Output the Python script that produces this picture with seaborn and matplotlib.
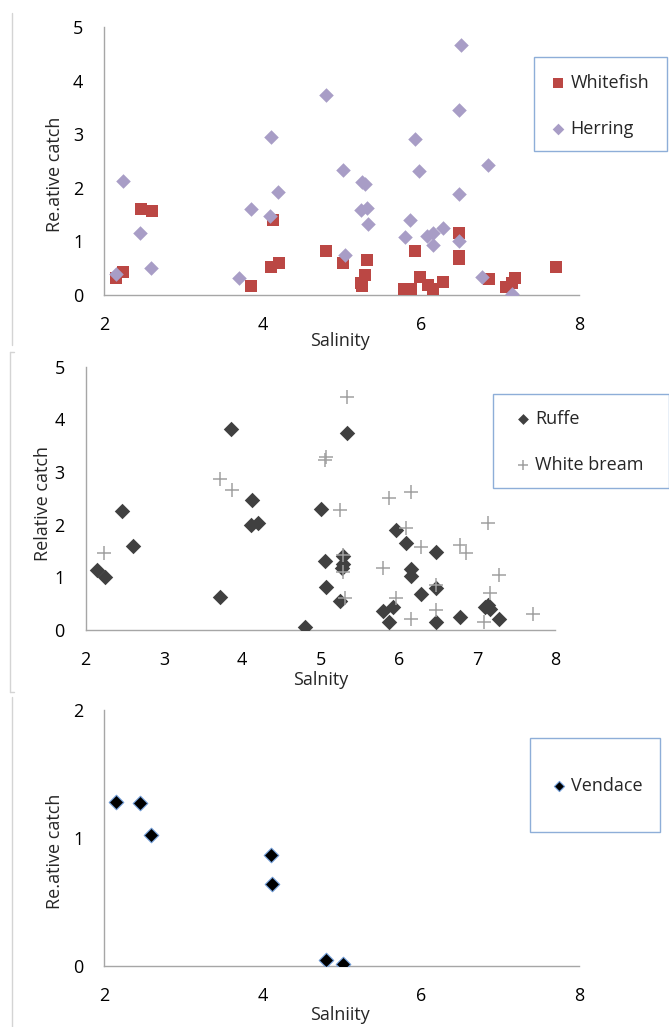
import matplotlib
matplotlib.use("Agg")
import matplotlib.pyplot as plt
import seaborn as sns
from matplotlib.lines import Line2D
from matplotlib.patches import Rectangle

# ---- data ----
wf_x = [2.15, 2.24, 2.47, 2.60, 3.86, 4.11, 4.13, 4.21, 4.80, 5.02, 5.25, 5.26, 5.30, 5.32, 5.79,
        5.88, 5.93, 5.99, 6.09, 6.16, 6.28, 6.48, 6.49, 6.49, 6.86, 7.08, 7.15, 7.19, 7.71]
wf_y = [0.31, 0.43, 1.61, 1.56, 0.16, 0.52, 1.40, 0.60, 0.82, 0.59, 0.21, 0.17, 0.37, 0.65, 0.10,
        0.11, 0.82, 0.34, 0.19, 0.10, 0.24, 1.15, 0.72, 0.66, 0.29, 0.14, 0.21, 0.31, 0.52]

hr_x = [2.15, 2.24, 2.46, 2.59, 3.70, 3.86, 4.10, 4.11, 4.20, 4.80, 5.02, 5.05, 5.25, 5.26, 5.30,
        5.32, 5.34, 5.80, 5.87, 5.93, 5.98, 6.08, 6.16, 6.16, 6.28, 6.48, 6.48, 6.49, 6.51, 6.77,
        6.85, 7.15]
hr_y = [0.39, 2.13, 1.16, 0.50, 0.31, 1.60, 1.48, 2.94, 1.92, 3.73, 2.34, 0.74, 1.58, 2.11, 2.07,
        1.63, 1.32, 1.08, 1.39, 2.91, 2.31, 1.10, 1.15, 0.92, 1.25, 3.45, 1.88, 1.00, 4.67, 0.34,
        2.42, 0.01]

rf_x = [2.15, 2.25, 2.46, 2.60, 3.71, 3.86, 4.11, 4.13, 4.20, 4.80, 5.01, 5.06, 5.07, 5.25, 5.28,
        5.29, 5.29, 5.34, 5.80, 5.88, 5.92, 5.97, 6.09, 6.15, 6.16, 6.28, 6.48, 6.48, 6.48, 6.78,
        7.10, 7.14, 7.16, 7.28]
rf_y = [1.13, 1.00, 2.26, 1.60, 0.63, 3.81, 1.99, 2.46, 2.03, 0.06, 2.30, 1.31, 0.82, 0.56, 1.17,
        1.25, 1.41, 3.74, 0.37, 0.15, 0.44, 1.89, 1.66, 1.03, 1.15, 0.68, 1.48, 0.79, 0.16, 0.25,
        0.44, 0.47, 0.39, 0.20]

wb_x = [2.24, 3.71, 3.87, 5.06, 5.07, 5.25, 5.29, 5.29, 5.31, 5.34, 5.80, 5.88, 5.97, 6.09, 6.16,
        6.16, 6.28, 6.48, 6.48, 6.78, 6.86, 7.09, 7.14, 7.16, 7.28, 7.71]
wb_y = [1.46, 2.86, 2.66, 3.23, 3.29, 2.27, 1.43, 1.11, 0.61, 4.43, 1.18, 2.51, 0.60, 1.94, 2.62,
        0.20, 1.58, 0.85, 0.38, 1.61, 1.46, 0.15, 2.03, 0.70, 1.04, 0.30]

vd_x = [2.15, 2.46, 2.59, 4.11, 4.12, 4.80, 5.02]
vd_y = [1.28, 1.27, 1.02, 0.87, 0.64, 0.05, 0.02]

x_ticks_a = [2, 4, 6, 8]
x_ticks_b = [2, 3, 4, 5, 6, 7, 8]
y_ticks_a = [0, 1, 2, 3, 4, 5]
y_ticks_c = [0, 1, 2]

# ---- style ----
sns.set_style("white")
plt.rcParams["font.family"] = ["Open Sans", "DejaVu Sans"]

W, H = 669, 1027
fig = plt.figure(figsize=(W / 100, H / 100), dpi=100)

def fx(px):
    return px / W

def fy(py):
    return 1 - py / H

AX = "#a6a6a6"
FS = 13

def make_axes(x0, x1, ytop, ybot):
    return fig.add_axes([fx(x0), fy(ybot), fx(x1) - fx(x0), fy(ytop) - fy(ybot)])

def style(ax, xt, yt, ymax, xlabel, ylabel, xl_pos, yl_pos):
    ax.set_xlim(2, 8)
    ax.set_ylim(0, ymax)
    ax.set_xticks(xt)
    ax.set_yticks(yt)
    for s in ["top", "right"]:
        ax.spines[s].set_visible(False)
    for s in ["left", "bottom"]:
        ax.spines[s].set_color(AX)
        ax.spines[s].set_linewidth(1.0)
    ax.tick_params(axis="both", direction="out", length=5, width=1.0, color=AX,
                   labelsize=FS, pad=10, labelcolor="black")
    ax.tick_params(axis="x", pad=10)
    ax.set_xlabel(xlabel, fontsize=FS)
    ax.set_ylabel(ylabel, fontsize=FS)
    ax.xaxis.set_label_coords(*xl_pos)
    ax.yaxis.set_label_coords(*yl_pos)
    ax.xaxis.label.set_va("center")
    ax.yaxis.label.set_va("center")
    ax.set_facecolor("white")

def legend_box(ax, box, anchor, spacing, mscale):
    x0, y0, x1, y1 = box
    fig.add_artist(Rectangle((fx(x0), fy(y1)), fx(x1) - fx(x0), fy(y0) - fy(y1),
                             transform=fig.transFigure, facecolor="white",
                             edgecolor="#8eaed8", linewidth=1.0, zorder=5))
    handles, labels = ax.get_legend_handles_labels()
    if ax.get_legend() is not None:
        ax.get_legend().remove()
    lg = fig.legend(handles, labels, loc="center left",
                    bbox_to_anchor=(fx(anchor[0]), fy(anchor[1])),
                    bbox_transform=fig.transFigure, frameon=False, fontsize=FS,
                    handletextpad=0.1, labelspacing=spacing, handlelength=1.2,
                    borderaxespad=0, borderpad=0, markerscale=mscale)
    lg.set_zorder(6)
    return lg

# ---- panel 1 ----
ax1 = make_axes(104, 579, 27.3, 294.7)
sns.scatterplot(x=wf_x, y=wf_y, ax=ax1, marker="s", s=75, color="#bb4744",
                linewidth=0, label="Whitefish", zorder=3)
sns.scatterplot(x=hr_x, y=hr_y, ax=ax1, marker="D", s=55, color="#a89dc6",
                linewidth=0, label="Herring", zorder=3)
style(ax1, x_ticks_a, y_ticks_a, 5, "Salinity", "Re.ative catch",
      (0.497, -0.175), (-0.103, 0.451))
legend_box(ax1, (534, 57, 667, 151), (547, 106), 1.55, 0.8)

# ---- panel 2 ----
ax2 = make_axes(85.7, 555.3, 366.7, 630)
sns.scatterplot(x=rf_x, y=rf_y, ax=ax2, marker="D", s=62, color="#404040",
                linewidth=0, label="Ruffe", zorder=3)
sns.scatterplot(x=wb_x, y=wb_y, ax=ax2, marker="+", s=90, color="#a0a0a0",
                linewidth=1.1, label="White bream", zorder=3)
style(ax2, x_ticks_b, y_ticks_a, 5, "Salnity", "Relative catch",
      (0.5, -0.19), (-0.091, 0.479))
legend_box(ax2, (493, 394, 669, 488), (512, 442), 1.55, 0.7)

# ---- panel 3 ----
ax3 = make_axes(104, 579, 709.7, 966.3)
sns.scatterplot(x=vd_x, y=vd_y, ax=ax3, marker="D", s=55, color="black",
                edgecolor="#6f9bd6", linewidth=0.8, label="Vendace", zorder=3)
style(ax3, x_ticks_a, y_ticks_c, 2, "Salniity", "Re.ative catch",
      (0.497, -0.19), (-0.104, 0.449))
legend_box(ax3, (530, 738, 660, 832), (548, 786), 1.0, 0.7)

# ---- faint frame edges of the embedded charts ----
fc = "#d4d4d4"
for (x0, y0, x1, y1) in [(12, 13, 12, 345), (10, 352, 10, 692), (10, 352, 14, 352),
                         (10, 692, 14, 692), (12, 697, 12, 1027)]:
    fig.add_artist(Line2D([fx(x0), fx(x1)], [fy(y0), fy(y1)], transform=fig.transFigure,
                          color=fc, linewidth=1.0))

fig.savefig("out.png", dpi=100)
